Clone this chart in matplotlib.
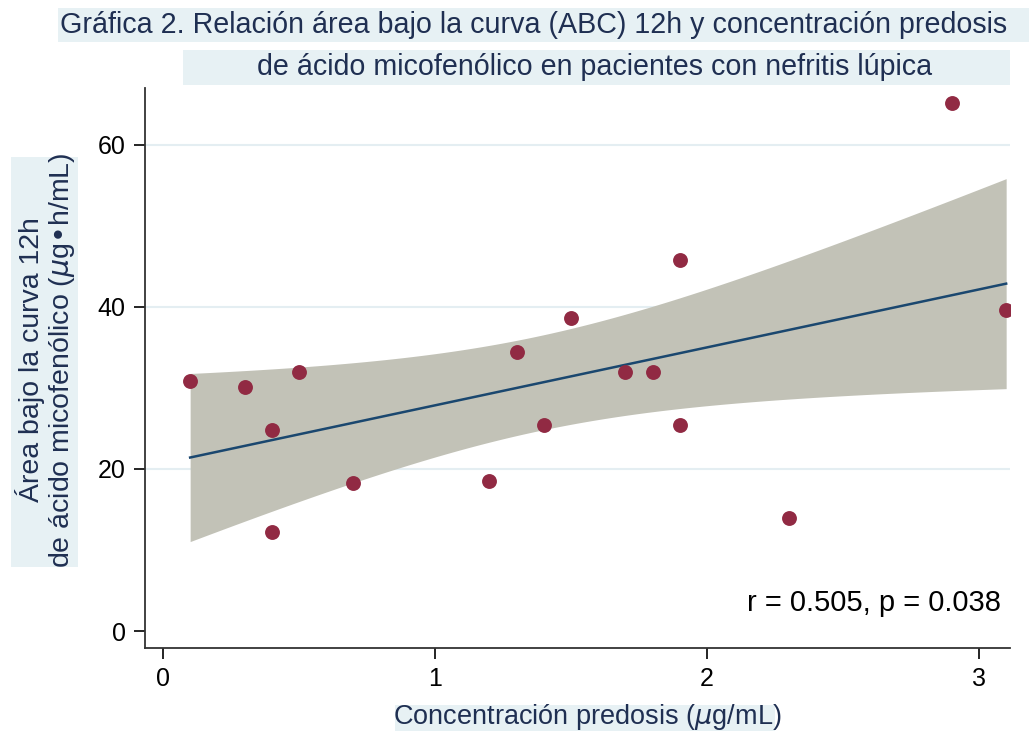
import numpy as np
import matplotlib
matplotlib.use("Agg")
import matplotlib.pyplot as plt
from matplotlib.patches import Rectangle

# Predose concentration (ug/mL) and 12h AUC (ug*h/mL)
predose = [0.1, 0.3, 0.4, 0.4, 0.5, 0.7, 1.2, 1.3, 1.4, 1.5, 1.7, 1.8, 1.9, 1.9, 2.3, 2.9, 3.1]
auc12 = [30.9, 30.1, 24.8, 12.2, 32.0, 18.3, 18.5, 34.4, 25.4, 38.6, 32.0, 32.0, 45.8, 25.4, 14.0, 65.1, 39.6]
x_ticks = [0, 1, 2, 3]
y_ticks = [0, 20, 40, 60]
stats_label = "r = 0.505, p = 0.038"

plt.rcParams["font.family"] = ["Liberation Sans", "DejaVu Sans"]

TXT = "#1f2f52"
BOX = "#e7f1f4"
MARK = "#912a43"
BAND = "#c2c2b7"
LINE = "#1a476f"
GRID = "#e4eef2"

x = np.array(predose)
y = np.array(auc12)
n = len(x)
b1, b0 = np.polyfit(x, y, 1)
resid = y - (b0 + b1 * x)
s = np.sqrt(np.sum(resid ** 2) / (n - 2))
sxx = np.sum((x - x.mean()) ** 2)
tcrit = 2.131  # t(0.975, 15)
xs = np.linspace(x.min(), x.max(), 200)
yhat = b0 + b1 * xs
se = s * np.sqrt(1.0 / n + (xs - x.mean()) ** 2 / sxx)

W, H = 1029, 731
fig = plt.figure(figsize=(W / 100, H / 100), dpi=100)


def px_rect(x0, y0, x1, y1):
    """Background panel given in pixel coordinates from the top-left corner."""
    fig.patches.append(Rectangle((x0 / W, 1 - y1 / H), (x1 - x0) / W, (y1 - y0) / H,
                                 transform=fig.transFigure, fc=BOX, ec="none", zorder=0))


ax = fig.add_axes([0.1409, 0.1135, 0.8406, 0.7661])

ax.fill_between(xs, yhat - tcrit * se, yhat + tcrit * se, color=BAND, lw=0, zorder=1)
ax.plot(xs, yhat, color=LINE, lw=1.8, zorder=2)
ax.scatter(x, y, s=115, color=MARK, lw=0, zorder=3)

ax.set_xlim(-0.066, 3.114)
ax.set_ylim(-2.1, 67.0)
ax.set_xticks(x_ticks)
ax.set_yticks(y_ticks)
ax.tick_params(direction="out", length=8, width=1.2, labelsize=18, colors="black", pad=6)
for sp in ("top", "right"):
    ax.spines[sp].set_visible(False)
for sp in ("left", "bottom"):
    ax.spines[sp].set_linewidth(1.3)
    ax.spines[sp].set_color("#333333")
for yv in y_ticks[1:]:
    ax.axhline(yv, color=GRID, lw=1.5, zorder=0)

ax.text(0.99, 0.055, stats_label, transform=ax.transAxes, ha="right", va="bottom",
        fontsize=21, color="black")

# title panels
px_rect(58, 8, 1029, 42)
px_rect(183, 50, 1010, 85)
fig.text(60 / W, 1 - 25 / H, "Gráfica 2. Relación área bajo la curva (ABC) 12h y concentración predosis",
         ha="left", va="center", fontsize=20.6, color=TXT)
fig.text(595 / W, 1 - 67 / H, "de ácido micofenólico en pacientes con nefritis lúpica",
         ha="center", va="center", fontsize=20.6, color=TXT)

# axis title panels
px_rect(11, 157, 78, 567)
px_rect(395, 705, 775, 731)
fig.text(46 / W, 1 - 360 / H, "Área bajo la curva 12h\nde ácido micofenólico ($\\mu$g•h/mL)",
         rotation=90, ha="center", va="center", fontsize=20.5, color=TXT, linespacing=1.1)
fig.text(587 / W, 1 - 717 / H, "Concentración predosis ($\\mu$g/mL)", ha="center", va="center",
         fontsize=19.5, color=TXT)

fig.savefig("out.png", dpi=100)
